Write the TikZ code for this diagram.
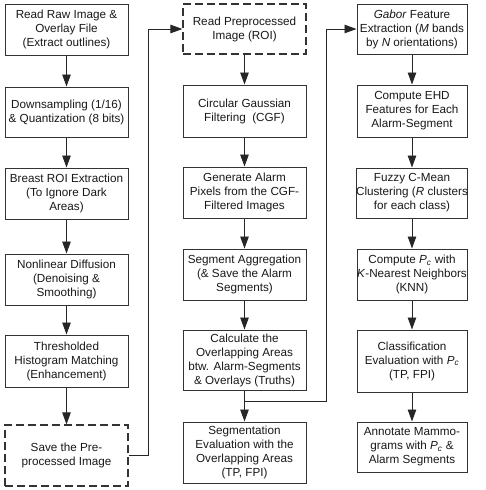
\documentclass[tikz,border=0pt]{standalone}
\usepackage{fontspec}
\setmainfont{Liberation Sans}
\usetikzlibrary{arrows.meta}
\begin{document}
\begin{tikzpicture}[x=1pt,y=-1pt,
  box/.style={draw=black!80, line width=1pt, fill=white, align=center, inner sep=0pt,
    font=\fontsize{11.7}{14}\selectfont, text=black!90},
  wbox/.style={box, minimum width=123pt},
  nbox/.style={box, minimum width=110pt},
  dbox/.style={dash pattern=on 8pt off 4pt, line width=1.2pt},
  arr/.style={draw=black!85, line width=0.9pt, -{Triangle[length=12pt,width=8.5pt]}},
  ln/.style={draw=black!85, line width=0.9pt}]
\useasboundingbox (0,0) rectangle (485,490);
% column 1
\node[wbox, minimum height=51pt] (a1) at (66.5,29.5) {Read Raw Image \&\\Overlay File\\(Extract outlines)};
\node[wbox, minimum height=50pt] (a2) at (66.5,112) {Downsampling (1/16)\\\& Quantization (8 bits)};
\node[wbox, minimum height=51pt] (a3) at (66.5,193.5) {Breast ROI Extraction\\(To Ignore Dark\\Areas)};
\node[wbox, minimum height=51pt] (a4) at (66.5,279.5) {Nonlinear Diffusion\\(Denoising \&\\Smoothing)};
\node[wbox, minimum height=52pt] (a5) at (66.5,361) {Thresholded\\Histogram Matching\\(Enhancement)};
\node[wbox, dbox, minimum height=61pt] (a6) at (66.5,455.5) {Save the Pre-\\processed Image};
% column 2
\node[wbox, dbox, minimum height=50pt] (b1) at (244.5,29) {Read Preprocessed\\Image (ROI)};
\node[wbox, minimum height=52pt] (b2) at (244.5,111) {Circular Gaussian\\Filtering\ \ (CGF)};
\node[wbox, minimum height=51pt] (b3) at (244.5,192.5) {Generate Alarm\\Pixels from the CGF-\\Filtered Images};
\node[wbox, minimum height=51pt] (b4) at (244.5,274.5) {Segment Aggregation\\(\& Save the Alarm\\Segments)};
\node[wbox, minimum height=60pt] (b5) at (244.5,360) {Calculate the\\Overlapping Areas\\btw. Alarm-Segments\\\& Overlays (Truths)};
\node[wbox, minimum height=61pt] (b6) at (244.5,452.5) {Segmentation\\Evaluation with the\\Overlapping Areas\\(TP, FPI)};
% column 3
\node[nbox, minimum height=50pt] (c1) at (412,29) {\textit{Gabor} Feature\\Extraction (\textit{M} bands\\by \textit{N} orientations)};
\node[nbox, minimum height=52pt] (c2) at (412,111) {Compute EHD\\Features for Each\\Alarm-Segment};
\node[nbox, minimum height=50pt] (c3) at (412,193) {Fuzzy C-Mean\\Clustering (\textit{R} clusters\\for each class)};
\node[nbox, minimum height=51pt] (c4) at (412,274.5) {Compute \textit{P}\textsubscript{\textit{c}} with\\\textit{K}-Nearest Neighbors\\(KNN)};
\node[nbox, minimum height=62pt] (c5) at (412,361) {Classification\\Evaluation with \textit{P}\textsubscript{\textit{c}}\\(TP, FPI)};
\node[nbox, minimum height=50pt] (c6) at (412,447) {Annotate Mammo-\\grams with \textit{P}\textsubscript{\textit{c}} \&\\Alarm Segments};
% arrows
\foreach \p/\q in {a1/a2,a2/a3,a3/a4,a4/a5,a5/a6,b1/b2,b2/b3,b3/b4,b4/b5,b5/b6,c1/c2,c2/c3,c3/c4,c4/c5,c5/c6}
  \draw[arr] (\p) -- (\q);
\coordinate (j1) at (148,455.5);
\draw[arr] (a6.east) -- (j1) |- (b1.west);
\coordinate (br) at (244.5,401);
\coordinate (j2) at (326,401);
\draw[arr] (br) -- (j2) |- (c1.west);
\end{tikzpicture}
\end{document}
